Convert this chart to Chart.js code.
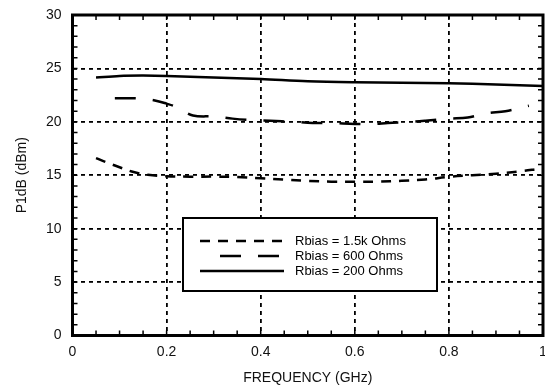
<!DOCTYPE html>
<html>
<head>
<meta charset="utf-8">
<script src="https://cdn.jsdelivr.net/npm/chart.js@4.4.1/dist/chart.umd.min.js"></script>
<style>
  html, body { margin:0; padding:0; background:#fff; }
  #wrap { width:545px; height:391px; }
</style>
</head>
<body>
<div id="wrap"><canvas id="p1dbChart" width="545" height="391"></canvas></div>
<script>
// values
const freq1500 = [0.05, 0.07, 0.10, 0.13, 0.16, 0.20, 0.25, 0.30, 0.35, 0.40, 0.45, 0.50, 0.55, 0.60, 0.65, 0.70, 0.75, 0.80, 0.85, 0.90, 0.95, 0.99];
const p1db1500 = [16.6, 16.25, 15.75, 15.3, 15.05, 14.9, 14.87, 14.87, 14.83, 14.72, 14.6, 14.47, 14.4, 14.4, 14.4, 14.48, 14.6, 14.85, 15.0, 15.15, 15.35, 15.6];

const freq600 = [0.09, 0.14, 0.175, 0.20, 0.22, 0.256, 0.30, 0.34, 0.385, 0.42, 0.47, 0.51, 0.55, 0.60, 0.64, 0.67, 0.72, 0.75, 0.80, 0.84, 0.88, 0.92, 0.97];
const p1db600 = [22.2, 22.2, 22.0, 21.7, 21.4, 20.6, 20.5, 20.3, 20.15, 20.1, 20.0, 19.9, 19.9, 19.8, 19.8, 19.9, 20.0, 20.1, 20.3, 20.4, 20.8, 21.0, 21.5];

const freq200 = [0.05, 0.10, 0.15, 0.20, 0.30, 0.40, 0.50, 0.60, 0.70, 0.80, 0.90, 1.00];
const p1db200 = [24.15, 24.3, 24.33, 24.3, 24.15, 24.0, 23.8, 23.7, 23.65, 23.6, 23.5, 23.35];

const seriesLabels = ['Rbias = 1.5k Ohms', 'Rbias = 600 Ohms', 'Rbias = 200 Ohms'];
const xMin = 0, xMax = 1, xStep = 0.2, xMinorStep = 0.05;
const yMin = 0, yMax = 30, yStep = 5, yMinorStep = 1;

const FONT = "'Liberation Sans', Arial, Helvetica, sans-serif";
const pts = (xs, ys) => xs.map((x, i) => ({ x, y: ys[i] }));

// frame, inside minor ticks and the boxed legend
const framePlugin = {
  id: 'frame',
  afterDraw(chart) {
    const { ctx, chartArea: a, scales: { x, y } } = chart;
    ctx.save();
    ctx.strokeStyle = '#000';
    ctx.lineWidth = 1.5;
    ctx.beginPath();
    for (let v = xMin; v <= xMax + 1e-9; v += xMinorStep) {
      const px = x.getPixelForValue(v);
      ctx.moveTo(px, a.bottom); ctx.lineTo(px, a.bottom - 5);
      ctx.moveTo(px, a.top); ctx.lineTo(px, a.top + 5);
    }
    for (let v = yMin; v <= yMax + 1e-9; v += yMinorStep) {
      const py = y.getPixelForValue(v);
      ctx.moveTo(a.left, py); ctx.lineTo(a.left + 5, py);
      ctx.moveTo(a.right, py); ctx.lineTo(a.right - 5, py);
    }
    ctx.stroke();
    ctx.lineWidth = 3;
    ctx.strokeRect(a.left, a.top, a.right - a.left, a.bottom - a.top);

    // legend box
    ctx.fillStyle = '#fff';
    ctx.fillRect(183, 218, 254, 73);
    ctx.lineWidth = 2;
    ctx.strokeRect(183, 218, 254, 73);
    const rows = [241, 256, 271];
    const starts = [200, 220, 200];
    ctx.font = '13px ' + FONT;
    ctx.textBaseline = 'middle';
    ctx.fillStyle = '#000';
    chart.data.datasets.forEach((ds, i) => {
      ctx.beginPath();
      ctx.lineWidth = ds.borderWidth;
      ctx.setLineDash(ds.borderDash || []);
      ctx.moveTo(starts[i], rows[i]);
      ctx.lineTo(284, rows[i]);
      ctx.stroke();
      ctx.setLineDash([]);
      ctx.fillText(ds.label, 295, rows[i] + 0.5);
    });
    ctx.restore();
  }
};

new Chart(document.getElementById('p1dbChart'), {
  type: 'line',
  data: {
    datasets: [
      { label: seriesLabels[0], data: pts(freq1500, p1db1500), borderColor: '#000', borderWidth: 2.5, borderDash: [10, 8], pointRadius: 0, tension: 0.35, fill: false },
      { label: seriesLabels[1], data: pts(freq600, p1db600), borderColor: '#000', borderWidth: 2.5, borderDash: [21, 17], pointRadius: 0, tension: 0.35, fill: false },
      { label: seriesLabels[2], data: pts(freq200, p1db200), borderColor: '#000', borderWidth: 2.5, pointRadius: 0, tension: 0.35, fill: false }
    ]
  },
  options: {
    responsive: false,
    animation: false,
    devicePixelRatio: 1,
    layout: { padding: { top: 15, right: 2, left: 0, bottom: 0 } },
    plugins: { legend: { display: false }, tooltip: { enabled: false } },
    scales: {
      x: {
        type: 'linear', min: xMin, max: xMax,
        afterFit: s => { s.height = 55.5; s.paddingLeft = 0; s.paddingRight = 0; },
        ticks: { stepSize: xStep, padding: 8, color: '#111', font: { family: FONT, size: 14 },
                 callback: v => Number(v.toFixed(1)).toString() },
        grid: { color: '#000', lineWidth: 1.8, drawTicks: false },
        border: { display: false, dash: [4, 4] },
        title: { display: true, text: 'FREQUENCY (GHz)', color: '#111', font: { family: FONT, size: 14 }, padding: { top: 4, bottom: 4 } }
      },
      y: {
        min: yMin, max: yMax,
        afterFit: s => { s.width = 72.5; s.paddingTop = 0; s.paddingBottom = 0; },
        ticks: { stepSize: yStep, padding: 11, color: '#111', font: { family: FONT, size: 14 } },
        grid: { color: '#000', lineWidth: 1.8, drawTicks: false },
        border: { display: false, dash: [4, 4] },
        title: { display: true, text: 'P1dB (dBm)', color: '#111', font: { family: FONT, size: 14 }, padding: { top: 14, bottom: 0 } }
      }
    }
  },
  plugins: [framePlugin]
});
</script>
</body>
</html>
